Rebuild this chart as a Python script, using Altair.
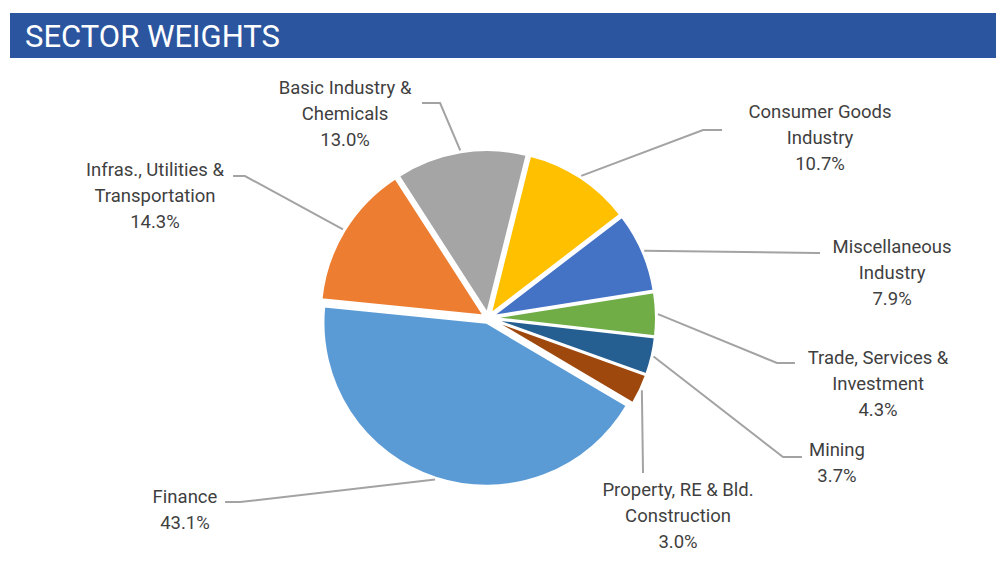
import math
import altair as alt
import pandas as pd

# ---------------- data ----------------
categories = [
    "Consumer Goods Industry",
    "Miscellaneous Industry",
    "Trade, Services & Investment",
    "Mining",
    "Property, RE & Bld. Construction",
    "Finance",
    "Infras., Utilities & Transportation",
    "Basic Industry & Chemicals",
]
label_text = [
    "Consumer Goods\nIndustry\n10.7%",
    "Miscellaneous\nIndustry\n7.9%",
    "Trade, Services &\nInvestment\n4.3%",
    "Mining\n3.7%",
    "Property, RE & Bld.\nConstruction\n3.0%",
    "Finance\n43.1%",
    "Infras., Utilities &\nTransportation\n14.3%",
    "Basic Industry &\nChemicals\n13.0%",
]
weights = [10.7, 7.9, 4.3, 3.7, 3.0, 43.1, 14.3, 13.0]
colors = ["#FFC000", "#4472C4", "#70AD47", "#255E91", "#9E480E",
          "#5B9BD5", "#ED7D31", "#A5A5A5"]

# ---------------- layout (pie-radius units, centre = 0,0, up = +) ----------------
W, H = 988, 546
CX, CY, R = 480, 310, 163
START_DEG = 14
EXPLODE = 5 / R
x_scale = alt.Scale(domain=[-CX / R, (W - CX) / R], range=[0, W], nice=False, zero=False)
y_scale = alt.Scale(domain=[-(H - CY) / R, CY / R], range=[H, 0], nice=False, zero=False)

# leader elbow / end and label anchor (first text line) for each category
leader_elbow = [(1.319, 1.153), (2.020, 0.399), (1.773, -0.276), (1.810, -0.853),
                (0.951, -0.951), (-1.521, -1.129), (-1.491, 0.871), (-0.294, 1.319)]
leader_end = [(1.436, 1.153), (2.037, 0.399), (1.883, -0.276), (1.926, -0.853),
              (0.951, -0.951), (-1.613, -1.129), (-1.564, 0.871), (-0.405, 1.319)]
label_anchor = [(2.037, 1.264), (2.479, 0.436), (2.393, -0.245), (2.141, -0.810),
                (1.166, -1.055), (-1.859, -1.098), (-2.043, 0.908), (-0.877, 1.411)]

start_rad = math.radians(START_DEG)

pie_df = pd.DataFrame({
    "category": categories,
    "weight": weights,
    "order": list(range(len(categories))),
})

# leader lines: start point follows each slice's mid-angle on its rim
rows = []
cum = 0.0
for i, (cat, w) in enumerate(zip(categories, weights)):
    mid = start_rad + (cum + w / 2) / 100 * 2 * math.pi
    cum += w
    r0 = 1 + EXPLODE + 2 / R
    pts = [(r0 * math.sin(mid), r0 * math.cos(mid)), leader_elbow[i], leader_end[i]]
    for k, (u, v) in enumerate(pts):
        rows.append({"category": cat, "pt": k, "u": u, "v": v})
lines_df = pd.DataFrame(rows)

labels_df = pd.DataFrame({
    "category": categories,
    "label": label_text,
    "u": [a[0] for a in label_anchor],
    "v": [a[1] for a in label_anchor],
})

pie = (
    alt.Chart(pie_df)
    .transform_window(cum="sum(weight)", sort=[alt.SortField("order")], frame=[None, 0])
    .transform_calculate(
        start="datum.cum - datum.weight",
        ang=f"{start_rad} + (datum.cum - datum.weight / 2) / 100 * 2 * PI",
    )
    .transform_calculate(
        ex=f"{EXPLODE} * sin(datum.ang)",
        ey=f"{EXPLODE} * cos(datum.ang)",
    )
    .mark_arc(outerRadius=R, stroke="white", strokeWidth=2)
    .encode(
        theta=alt.Theta("start:Q", scale=alt.Scale(domain=[0, 100],
                                                   range=[start_rad, start_rad + 2 * math.pi])),
        theta2="cum:Q",
        x=alt.X("ex:Q", scale=x_scale, axis=None),
        y=alt.Y("ey:Q", scale=y_scale, axis=None),
        color=alt.Color("category:N", scale=alt.Scale(domain=categories, range=colors), legend=None),
    )
)

leaders = (
    alt.Chart(lines_df)
    .mark_line(color="#A3A3A3", strokeWidth=2)
    .encode(
        x=alt.X("u:Q", scale=x_scale, axis=None),
        y=alt.Y("v:Q", scale=y_scale, axis=None),
        detail="category:N",
        order="pt:O",
    )
)

labels = (
    alt.Chart(labels_df)
    .mark_text(align="center", baseline="middle", fontSize=18.5, font="Roboto",
               color="#3F3F3F", lineBreak="\n", lineHeight=26)
    .encode(
        x=alt.X("u:Q", scale=x_scale, axis=None),
        y=alt.Y("v:Q", scale=y_scale, axis=None),
        text="label:N",
    )
)

title_df = pd.DataFrame({"t": ["SECTOR WEIGHTS"]})
title_bar = alt.Chart(title_df).mark_rect(color="#2C559F").encode(
    x=alt.value(2), x2=alt.value(W), y=alt.value(5), y2=alt.value(50)
)
title_text = alt.Chart(title_df).mark_text(
    align="left", baseline="alphabetic", fontSize=31, font="Roboto", color="white"
).encode(x=alt.value(17), y=alt.value(39), text="t:N")

chart = (
    alt.layer(title_bar, title_text, leaders, pie, labels)
    .properties(width=W, height=H, padding=0, autosize="none")
    .configure_view(stroke=None)
)

chart.save("out.html", embed_options={"renderer": "svg", "actions": False})
